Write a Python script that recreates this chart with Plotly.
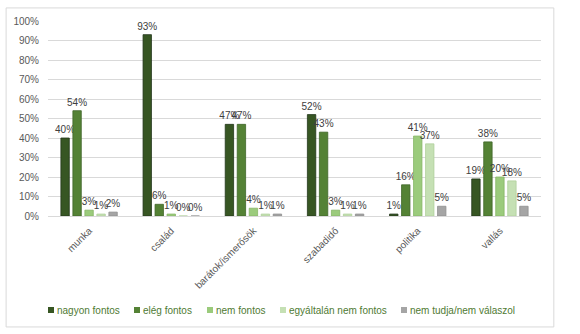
import plotly.graph_objects as go

categories = ["munka", "család", "barátok/ismerősök", "szabadidő", "politika", "vallás"]
series_names = ["nagyon fontos", "elég fontos", "nem fontos", "egyáltalán nem fontos", "nem tudja/nem válaszol"]
nagyon = [40, 93, 47, 52, 1, 19]
eleg = [54, 6, 47, 43, 16, 38]
nem = [3, 1, 4, 3, 41, 20]
egyaltalan = [1, 0, 1, 1, 37, 18]
nemtudja = [2, 0, 1, 1, 5, 5]
values = [nagyon, eleg, nem, egyaltalan, nemtudja]
colors = ["#375623", "#548235", "#9BCB7C", "#C5E0B4", "#A5A5A5"]
lines = ["#22361a", "#3f6628", "#86b566", "#b0d09c", "#8f8f8f"]
yticks = list(range(0, 101, 10))

FONT = "Liberation Sans"
L, R, T, B, W, H = 48, 39, 21, 118, 580, 334
PW, PH = W - L - R, H - T - B


def px(x):
    return (x - L) / PW


def py(y):
    return (H - B - y) / PH


fig = go.Figure()
for name, vals, c, lc in zip(series_names, values, colors, lines):
    fig.add_trace(go.Bar(
        x=categories, y=vals, name=name,
        marker=dict(color=c, line=dict(color=lc, width=0.8)),
        text=[f"{v}%" for v in vals], textposition="outside",
        textfont=dict(family=FONT, size=10, color="#404040"),
        constraintext="none", cliponaxis=False,
    ))

# manual legend (Excel-style small squares directly before text)
legend_x = [48, 134, 207, 280, 401]
shapes = [dict(type="rect", xref="paper", yref="paper",
               x0=-0.085, x1=1.026, y0=-0.569, y1=1.067,
               line=dict(color="#d9d9d9", width=1))]
annotations = []
for name, c, lx in zip(series_names, colors, legend_x):
    shapes.append(dict(type="rect", xref="paper", yref="paper",
                       x0=px(lx), x1=px(lx + 6), y0=py(313), y1=py(307),
                       fillcolor=c, line=dict(width=0)))
    annotations.append(dict(xref="paper", yref="paper", x=px(lx + 7), y=py(310),
                            xanchor="left", yanchor="middle", showarrow=False,
                            text=name, font=dict(family=FONT, size=10, color="#4f7a33")))

fig.update_layout(
    width=W, height=H,
    margin=dict(l=L, r=R, t=T, b=B, autoexpand=False),
    paper_bgcolor="white", plot_bgcolor="white",
    barmode="group", bargap=0.27, bargroupgap=0.3,
    font=dict(family=FONT, size=10, color="#595959"),
    showlegend=False,
    yaxis=dict(range=[0, 100], tickvals=yticks, ticktext=[f"{t}%" for t in yticks],
               showgrid=True, gridcolor="#d9d9d9", gridwidth=1, zeroline=False,
               showline=False, tickfont=dict(family=FONT, size=10, color="#595959"),
               ticks="", ticklabelstandoff=8, automargin=False),
    xaxis=dict(tickangle=-45, showline=True, linecolor="#d9d9d9", linewidth=1,
               automargin=False, ticks="", ticklabelstandoff=4,
               tickfont=dict(family=FONT, size=10, color="#595959")),
    shapes=shapes,
    annotations=annotations,
)

fig.write_html("out.html")
